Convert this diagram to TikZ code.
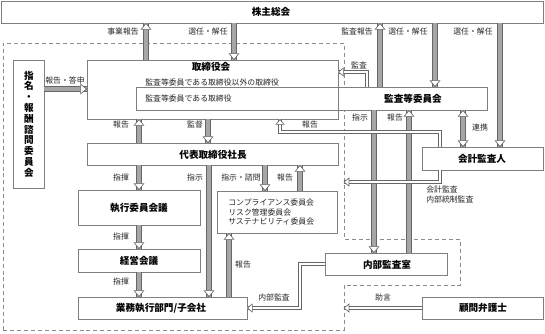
\documentclass[tikz,border=0pt]{standalone}
\usepackage{fontspec}
\setmainfont{Noto Sans CJK JP}
\usetikzlibrary{fit,decorations.markings}
\definecolor{boxc}{HTML}{7F7F7F}
\definecolor{arro}{HTML}{666666}
\definecolor{arrf}{HTML}{A6A6A6}
\definecolor{dashc}{HTML}{8C8C8C}
\begin{document}
\begin{tikzpicture}[x=0.75pt,y=-0.75pt,
 box/.style={draw=boxc, line width=0.6pt, fill=white, inner sep=0pt},
 bold/.style={font=\fontsize{7.2pt}{8.1pt}\selectfont\bfseries, inner sep=0pt},
 lbl/.style={font=\fontsize{5.9pt}{7pt}\selectfont, text=black!85, inner sep=0pt},
 bighead/.code={},
 bigarr/.style={preaction={draw=arro, line width=3.9pt}, draw=arrf, line width=2.7pt,
   postaction={decorate, decoration={markings, mark=at position 1 with {\draw[line width=0.5pt, draw=arro, fill=white, line join=miter] (0,0) -- (-6,4.8) -- (-6,-4.8) -- cycle;}}}},
 bigdbl/.style={preaction={draw=arro, line width=3.9pt}, draw=arrf, line width=2.7pt,
   postaction={decorate, decoration={markings,
     mark=at position 0 with {\draw[line width=0.5pt, draw=arro, fill=white, line join=miter] (0,0) -- (6,4.8) -- (6,-4.8) -- cycle;},
     mark=at position 1 with {\draw[line width=0.5pt, draw=arro, fill=white, line join=miter] (0,0) -- (-6,4.8) -- (-6,-4.8) -- cycle;}}}},
 holarr/.style={preaction={draw=arro, line width=3pt}, draw=white, line width=2pt,
   postaction={decorate, decoration={markings, mark=at position 1 with {\draw[line width=0.5pt, draw=arro, fill=white, line join=miter] (0,0) -- (-5,4) -- (-5,-4) -- cycle;}}}},
 dsh/.style={draw=dashc, line width=0.6pt, dash pattern=on 3pt off 2.2pt}
]
\useasboundingbox (0,0) rectangle (545,333);
% dashed region
\coordinate (dl) at (344,182);
\draw[dsh] (3,330) -- (3,43) -- (344,43) -- (344,239) -- (460,239) -- (460,285) -- (344,285) -- (344,330) -- cycle;
% boxes
\node[box, fit={(1,1) (543,23)}] (sh) {};
\node[bold] at (271,12) {株主総会};
\node[fill=white, inner sep=0pt, fit={(87,60) (338,119)}] (tbf) {};
\node[box, fit={(136,87) (487,110)}] (ac) {};
\node[draw=boxc, line width=0.6pt, inner sep=0pt, fit={(87,60) (338,119)}] (tb) {};
\node[bold] at (211,67) {取締役会};
\node[lbl, anchor=west] at (145,82) {監査等委員である取締役以外の取締役};
\node[lbl, anchor=west] at (145,98.5) {監査等委員である取締役};
\node[bold] at (413,99) {監査等委員会};
\node[box, fit={(13,60) (44,188)}] (nc) {};
\node[bold, align=center] at (29,124) {指\\名\\・\\報\\酬\\諮\\問\\委\\員\\会};
\node[box, fit={(87,143) (338,165)}] (ceo) {};
\node[bold] at (213,155) {代表取締役社長};
\node[box, fit={(78,190) (200,225)}] (ex) {};
\node[bold] at (139,208) {執行委員会議};
\node[box, fit={(217,191) (337,233)}] (cm) {};
\node[lbl, anchor=north west, align=left, font=\fontsize{5.9pt}{7.1pt}\selectfont] at (228,199) {コンプライアンス委員会\\リスク管理委員会\\サステナビリティ委員会};
\node[box, fit={(78,249) (200,272)}] (mg) {};
\node[bold] at (139,261) {経営会議};
\node[box, fit={(78,297) (247,319)}] (op) {};
\node[bold] at (161,308) {業務執行部門/子会社};
\node[box, fit={(325,253) (447,275)}] (ia) {};
\node[bold] at (387,265) {内部監査室};
\node[box, fit={(422,147) (543,170)}] (au) {};
\node[bold] at (482,159) {会計監査人};
\node[box, fit={(422,297) (543,319)}] (lw) {};
\node[bold] at (483,308) {顧問弁護士};
% thick arrows
\draw[bigarr] (146,0 |- tb.north) -- (146,0 |- sh.south);
\draw[bigarr] (234,0 |- sh.south) -- (234,0 |- tb.north);
\draw[bigarr] (380,0 |- ac.north) -- (380,0 |- sh.south);
\draw[bigarr] (435,0 |- sh.south) -- (435,0 |- ac.north);
\draw[bigarr] (500,0 |- sh.south) -- (500,0 |- au.north);
\draw[bigarr] (nc.east |- 0,89) -- (tb.west |- 0,89);
\draw[bigarr] (139,0 |- ceo.north) -- (139,0 |- tb.south);
\draw[bigarr] (208,0 |- tb.south) -- (208,0 |- ceo.north);
\draw[bigarr] (139,0 |- ceo.south) -- (139,0 |- ex.north);
\draw[bigarr] (209,0 |- ceo.south) -- (209,0 |- op.north);
\draw[bigarr] (265,0 |- ceo.south) -- (265,0 |- cm.north);
\draw[bigarr] (300,0 |- cm.north) -- (300,0 |- ceo.south);
\draw[bigarr] (139,0 |- ex.south) -- (139,0 |- mg.north);
\draw[bigarr] (139,0 |- mg.south) -- (139,0 |- op.north);
\draw[bigarr] (229,0 |- op.north) -- (229,0 |- cm.south);
\draw[bigarr] (374,0 |- ac.south) -- (374,0 |- ia.north);
\draw[bigarr] (409,0 |- ia.north) -- (409,0 |- ac.south);
\draw[bigdbl] (463,0 |- ac.south) -- (463,0 |- au.north);
% hollow arrows
\draw[holarr] (367,0 |- ac.north) |- (tb.east |- 0,72);
\draw[holarr] (440,0 |- au.north) |- (280,132) -- (280,0 |- tb.south);
\draw[holarr] (440,0 |- au.south) |- (dl);
\draw[holarr] (ia.west) -| (300,308) -- (op.east);
\draw[holarr] (lw.west) -- (lw.west -| dl);
% labels
\node[lbl] (l1) at (123,32) {事業報告};
\node[lbl] (l2) at (208,32) {選任・解任};
\node[lbl] (l3) at (357,32) {監査報告};
\node[lbl] (l4) at (408,32) {選任・解任};
\node[lbl] (l5) at (473,32) {選任・解任};
\node[lbl] (l6) at (65,80) {報告・答申};
\node[lbl] (l7) at (359,65) {監査};
\node[lbl] (l8) at (121,125) {報告};
\node[lbl] (l9) at (195,125) {監督};
\node[lbl] (l10) at (310,125) {報告};
\node[lbl] (l11) at (360,118) {指示};
\node[lbl] (l12) at (395,118) {報告};
\node[lbl] (l13) at (480,128) {連携};
\node[lbl] (l14) at (121,178) {指揮};
\node[lbl] (l15) at (195,178) {指示};
\node[lbl] (l16) at (241,178) {指示・諮問};
\node[lbl] (l17) at (285,178) {報告};
\node[lbl, anchor=west, align=left, font=\fontsize{5.9pt}{6.8pt}\selectfont] (l18) at (426,194.5) {会計監査\\内部統制監査};
\node[lbl] (l19) at (121,237) {指揮};
\node[lbl] (l20) at (243,265) {報告};
\node[lbl] (l21) at (121,282) {指揮};
\node[lbl] (l22) at (274,298) {内部監査};
\node[lbl] (l23) at (383,298) {助言};
\end{tikzpicture}
\end{document}
